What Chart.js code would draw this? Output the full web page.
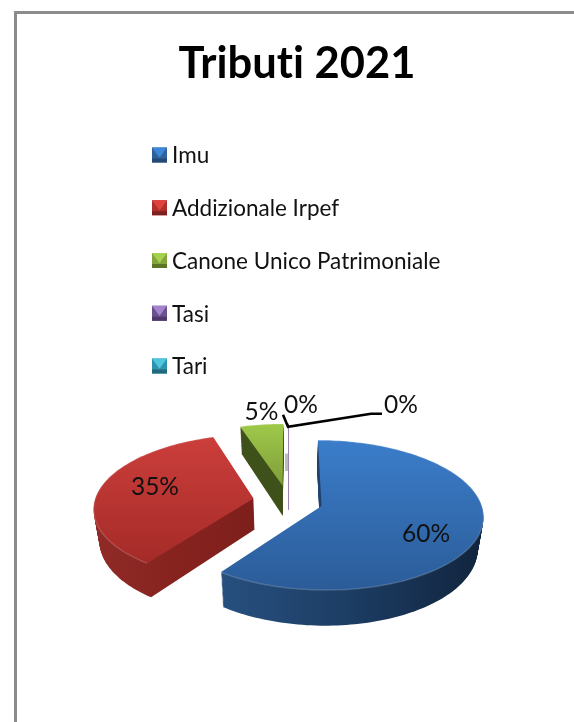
<!DOCTYPE html>
<html lang="it">
<head>
    <meta charset="UTF-8">
    <title>Tributi 2021</title>
    <script src="https://cdn.jsdelivr.net/npm/chart.js"></script>
    <style>
        html, body { margin: 0; padding: 0; background: #fff; overflow: hidden; width: 574px; height: 722px; }
        #frame { position: absolute; left: 14px; top: 11px; width: 600px; height: 760px; border: 3px solid #8c8c8c; }
        canvas { position: absolute; left: 0; top: 0; }
    </style>
</head>
<body>
    <div id="frame"></div>
    <canvas id="pie" width="574" height="722"></canvas>

    <script>
        const categories = ['Imu', 'Addizionale Irpef', 'Canone Unico Patrimoniale', 'Tasi', 'Tari'];
        const shares = [60, 35, 5, 0, 0];

        // top face gradient (back to front), wall gradient (left to right), legend colour
        const topColors = [['#3b7dca', '#2b5c98'], ['#cb3e3b', '#a52b28'], ['#9fc94a', '#7f9e39'], ['#8064a2', '#8064a2'], ['#4bacc6', '#4bacc6']];
        const wallColors = [['#27507f', '#1c3c63', '#11243d'], ['#902b28', '#86231f', '#7e1f1c'], ['#3f511a', '#3f511a', '#3f511a'], ['#9a86b5', '#9a86b5', '#9a86b5'], ['#9a86b5', '#9a86b5', '#9a86b5']];
        const legendColors = [['#3f86d6', '#2f6299', '#234a75'], ['#e0413e', '#b02f2c', '#7f201e'], ['#a6d04f', '#83a53c', '#5c7428'], ['#a283cc', '#6b4f90', '#4d3869'], ['#4fc6e0', '#2f93ad', '#20697d']];

        // where each percent sits: fraction of the radius, then a nudge in pixels
        const labelPlaces = [[0.7, -6, 12], [0.7, 9, -4], [1, 0, -13], [1, 13, -19], [1, 113, -19]];

        const TILT = 0.457;
        const PERSPECTIVE = 0.12;
        const DEPTH = 31;
        const LABEL_FONT = '24.5px Lato';

        function project(chart, radius, u, v, z) {
            const area = chart.chartArea;
            const cx = (area.left + area.right) / 2;
            const cy = (area.top + area.bottom) / 2;
            const s = 1 / (1 - PERSPECTIVE * v / radius);
            const lift = z || 0;
            return {
                x: cx + u * s * (1 - 0.03 * lift / DEPTH),
                y: cy + TILT * v * s + lift * s
            };
        }

        function sliceFrame(arc, chart) {
            const area = chart.chartArea;
            const mid = (arc.startAngle + arc.endAngle) / 2;
            const off = arc.options.offset;
            return {
                mid: mid,
                ou: arc.x - (area.left + area.right) / 2 + Math.cos(mid) * off,
                ov: arc.y - (area.top + area.bottom) / 2 + Math.sin(mid) * off
            };
        }

        function slicePoints(arc, chart, z) {
            const f = sliceFrame(arc, chart);
            const r = arc.outerRadius;
            const pts = [project(chart, r, f.ou, f.ov, z)];
            const steps = Math.max(2, Math.ceil((arc.endAngle - arc.startAngle) * 40));
            for (let i = 0; i <= steps; i++) {
                const a = arc.startAngle + (arc.endAngle - arc.startAngle) * i / steps;
                pts.push(project(chart, r, f.ou + Math.cos(a) * r, f.ov + Math.sin(a) * r, z));
            }
            return pts;
        }

        function tracePoints(ctx, pts) {
            ctx.beginPath();
            pts.forEach((p, i) => i ? ctx.lineTo(p.x, p.y) : ctx.moveTo(p.x, p.y));
            ctx.closePath();
        }

        function drawSlices(chart) {
            const ctx = chart.ctx;
            const arcs = chart.getDatasetMeta(0).data;
            for (let i = arcs.length - 1; i >= 0; i--) {
                const arc = arcs[i];
                const top = slicePoints(arc, chart, 0);
                ctx.save();
                if (shares[i] === 0) {
                    const low = slicePoints(arc, chart, DEPTH);
                    const x = Math.round(top[1].x);
                    // grey smear the empty slices leave on the line
                    ctx.fillStyle = '#bcbcbc';
                    ctx.fillRect(x - 3, top[1].y + 30, 4, 17);
                    ctx.strokeStyle = wallColors[i][0];
                    ctx.lineWidth = 1;
                    ctx.beginPath();
                    ctx.moveTo(x + 0.5, top[1].y);
                    ctx.lineTo(x + 0.5, low[0].y - 6);
                    ctx.stroke();
                    ctx.restore();
                    continue;
                }
                const xs = top.map(p => p.x);
                const ys = top.map(p => p.y);
                const wall = ctx.createLinearGradient(Math.min(...xs), 0, Math.max(...xs), 0);
                wall.addColorStop(0, wallColors[i][0]);
                wall.addColorStop(0.5, wallColors[i][1]);
                wall.addColorStop(1, wallColors[i][2]);
                ctx.fillStyle = wall;
                for (let z = DEPTH; z > 0; z--) {
                    tracePoints(ctx, slicePoints(arc, chart, z));
                    ctx.fill();
                }
                const face = ctx.createLinearGradient(0, Math.min(...ys), 0, Math.max(...ys));
                face.addColorStop(0, topColors[i][0]);
                face.addColorStop(1, topColors[i][1]);
                ctx.fillStyle = face;
                tracePoints(ctx, top);
                ctx.fill();

                // soft rim along the outer edge
                ctx.strokeStyle = 'rgba(255,255,255,0.16)';
                ctx.lineWidth = 1.5;
                ctx.beginPath();
                top.slice(1).forEach((p, n) => n ? ctx.lineTo(p.x, p.y) : ctx.moveTo(p.x, p.y));
                ctx.stroke();
                ctx.restore();
            }
        }

        function drawLabels(chart) {
            const ctx = chart.ctx;
            const arcs = chart.getDatasetMeta(0).data;
            const total = shares.reduce((a, b) => a + b, 0);
            const spots = arcs.map((arc, i) => {
                const f = sliceFrame(arc, chart);
                const r = arc.outerRadius * labelPlaces[i][0];
                return project(chart, arc.outerRadius, f.ou + Math.cos(f.mid) * r, f.ov + Math.sin(f.mid) * r);
            });

            // leader lines of the two empty slices
            const root = spots[3];
            ctx.save();
            ctx.strokeStyle = '#000';
            ctx.lineWidth = 2.6;
            ctx.beginPath();
            ctx.moveTo(root.x - 5, root.y - 9);
            ctx.lineTo(root.x, root.y + 3);
            ctx.lineTo(root.x + 83, root.y - 10);
            ctx.lineTo(root.x + 94, root.y - 10);
            ctx.stroke();

            ctx.fillStyle = '#111';
            ctx.font = LABEL_FONT;
            ctx.textAlign = 'center';
            ctx.textBaseline = 'middle';
            arcs.forEach((arc, i) => {
                const text = Math.round(shares[i] / total * 100) + '%';
                ctx.fillText(text, spots[i].x + labelPlaces[i][1], spots[i].y + labelPlaces[i][2]);
            });
            ctx.restore();
        }

        function drawLegend(chart) {
            // legend column with the bevelled Office style keys
            const ctx = chart.ctx;
            const left = 152, size = 15, firstRow = 155, rowGap = 52.75;
            ctx.save();
            ctx.font = '22.5px Lato';
            ctx.textBaseline = 'middle';
            ctx.textAlign = 'left';
            categories.forEach((name, i) => {
                const y = firstRow + i * rowGap;
                const t = y - size / 2;
                const c = legendColors[i];
                ctx.fillStyle = c[1];
                ctx.fillRect(left, t, size, size);
                ctx.fillStyle = c[0];
                ctx.beginPath();
                ctx.moveTo(left, t);
                ctx.lineTo(left + size, t);
                ctx.lineTo(left + size / 2, t + size * 0.68);
                ctx.closePath();
                ctx.fill();
                ctx.fillStyle = c[2];
                ctx.fillRect(left, t + size - 4, size, 4);
                ctx.fillStyle = '#111';
                ctx.fillText(name, left + 20, y + 1);
            });
            ctx.restore();
        }

        const pie3d = {
            id: 'pie3d',
            afterLayout(chart) {
                // the title sits a little right of the pie centre
                chart.titleBlock.left += 9;
                chart.titleBlock.right += 9;
            },
            beforeDraw(chart) {
                // keeps the "ti" of Tributi as two letters
                chart.ctx.textRendering = 'optimizeSpeed';
            },
            beforeDatasetsDraw(chart) {
                drawSlices(chart);
                drawLabels(chart);
                return false;
            },
            afterDraw(chart) {
                drawLegend(chart);
            }
        };

        new Chart(document.getElementById('pie'), {
            type: 'pie',
            data: {
                labels: categories,
                datasets: [{
                    data: shares,
                    backgroundColor: legendColors.map(c => c[1]),
                    offset: 35,
                    borderWidth: 0
                }]
            },
            options: {
                responsive: false,
                animation: false,
                radius: 159,
                layout: { padding: { left: 2 } },
                plugins: {
                    legend: { display: false },
                    tooltip: { enabled: false },
                    title: {
                        display: true,
                        text: 'Tributi 2021',
                        color: '#000',
                        font: { family: 'Lato', size: 43.5, weight: 'bold' },
                        padding: { top: 38, bottom: 190 }
                    }
                }
            },
            plugins: [pie3d]
        });
    </script>
</body>
</html>
